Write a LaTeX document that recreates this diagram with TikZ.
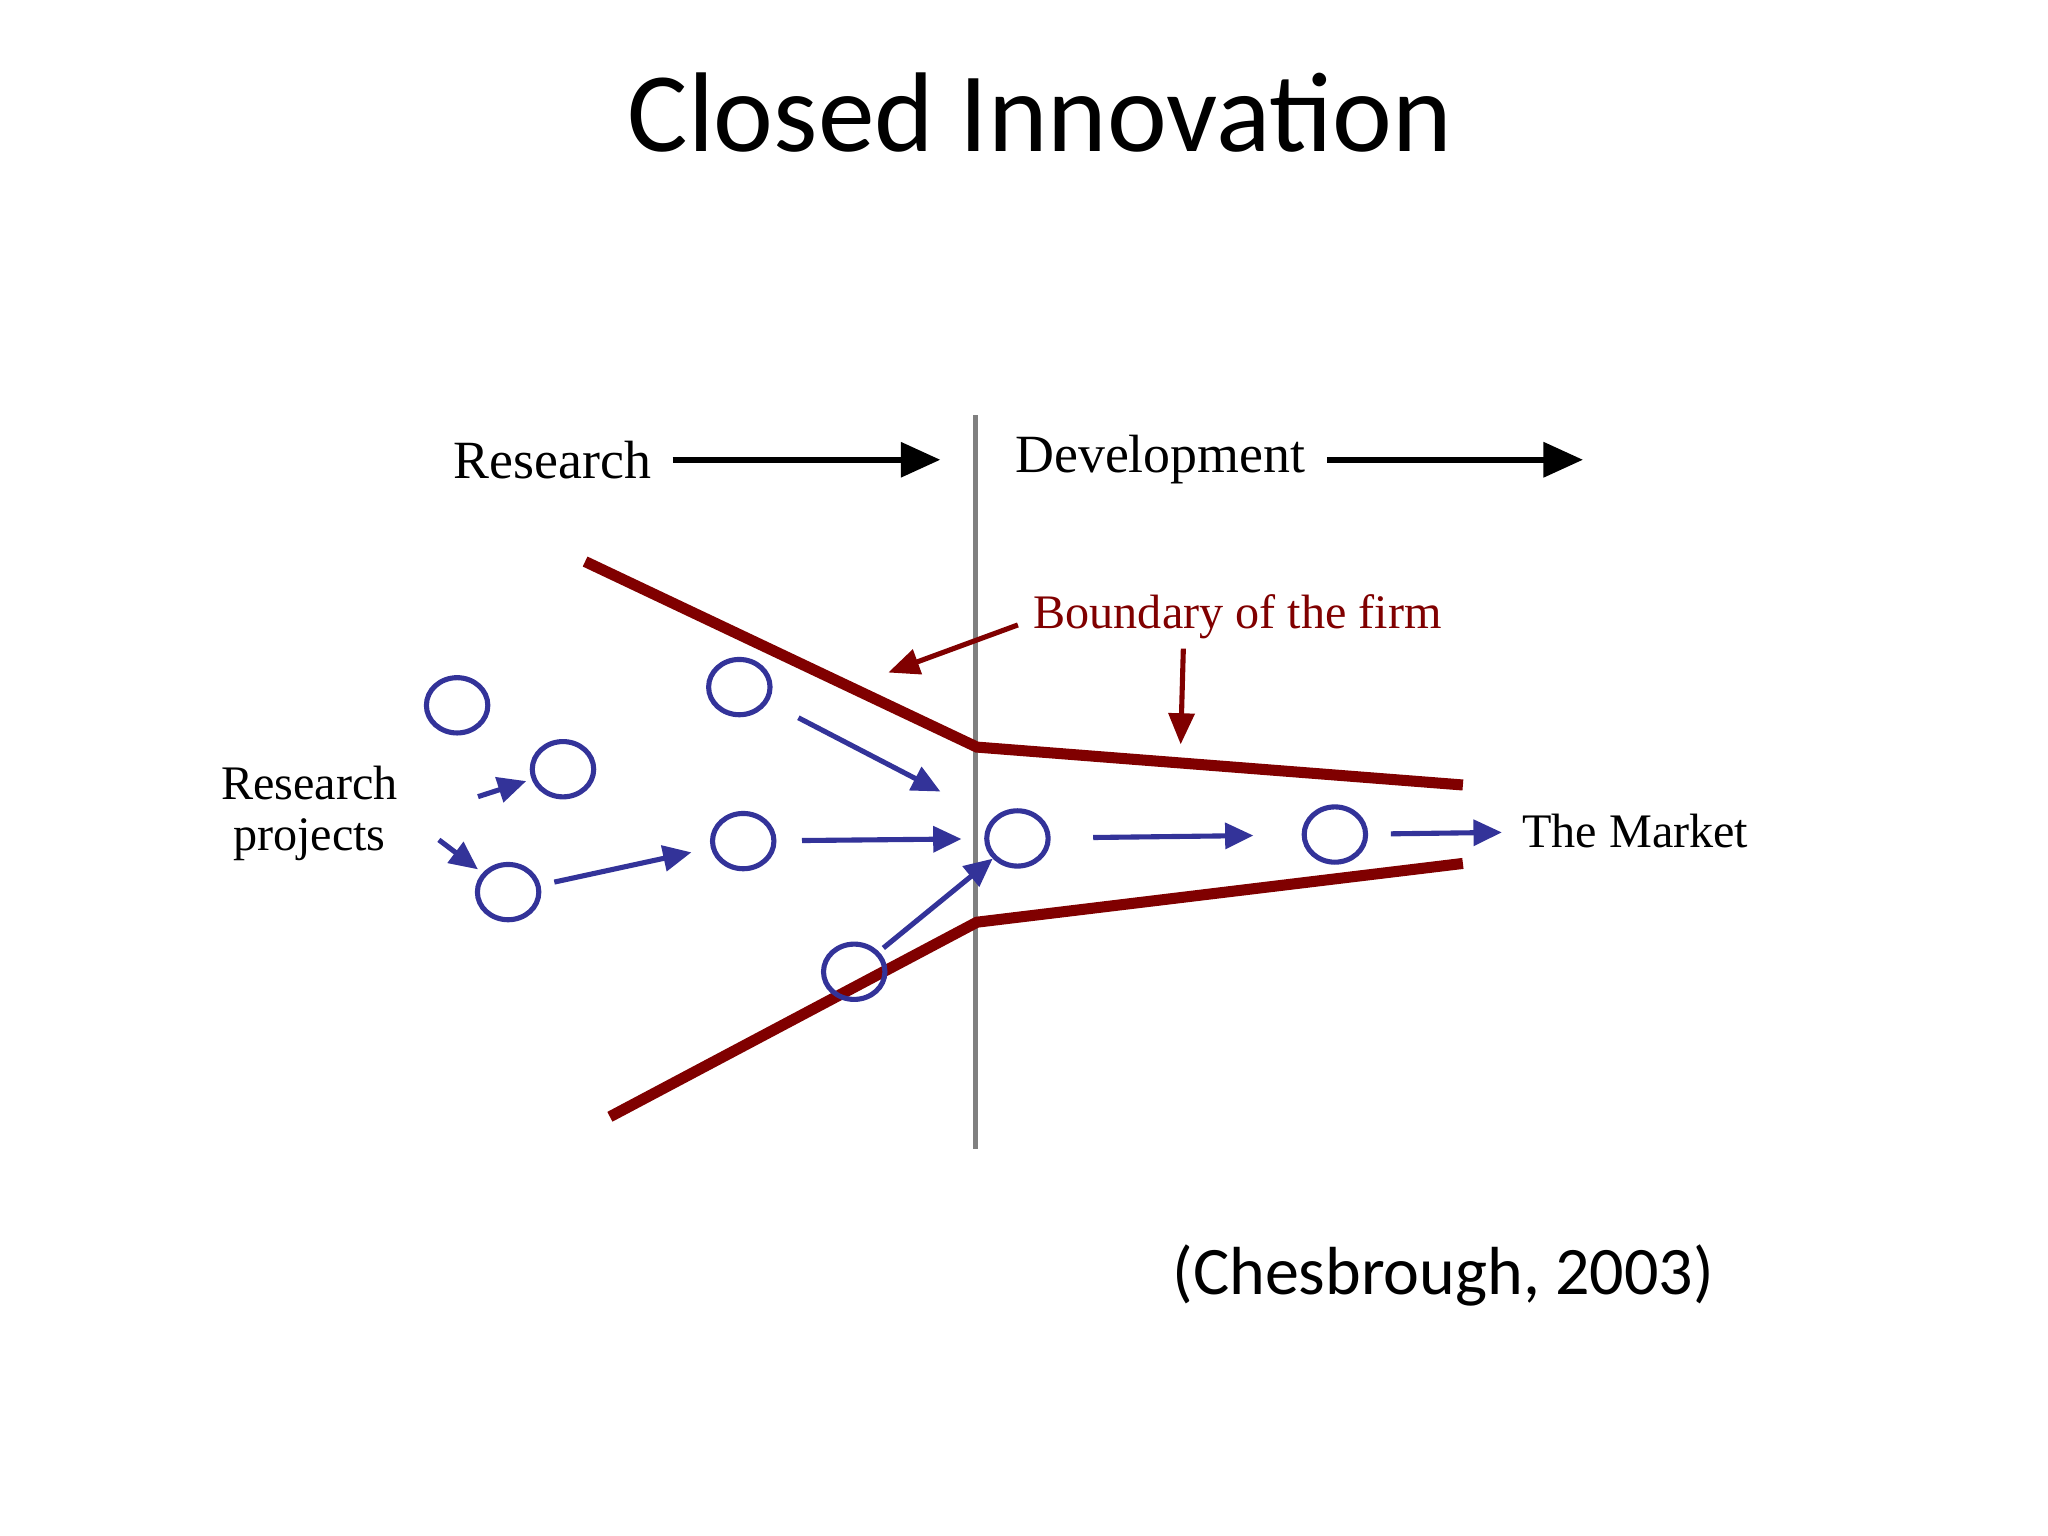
\documentclass[tikz,border=0pt]{standalone}
\usepackage{fontspec}
\setmainfont{Liberation Serif}
\newfontfamily\slidefont{Carlito}
\usetikzlibrary{arrows.meta,shapes.geometric}

\definecolor{projblue}{RGB}{51,51,153}
\definecolor{firmred}{RGB}{128,0,0}
\definecolor{phasegray}{RGB}{128,128,128}

\tikzset{
	proj/.style={ellipse, draw=projblue, line width=1.8pt, minimum width=0.30in, minimum height=0.27in, inner sep=0pt},
	flow/.style={projblue, line width=1.8pt, -{Triangle[length=10pt,width=9pt]}},
	phase/.style={black, line width=2.3pt, -{Triangle[length=14pt,width=12pt]}},
	pointer/.style={firmred, line width=1.8pt, -{Triangle[length=11pt,width=9pt]}},
	wall/.style={firmred, line width=3.9pt}
}

\begin{document}
\begin{tikzpicture}[x=1.0in,y=1.0in]
		\useasboundingbox (0,0) rectangle (10,7.5);
		
		\node (title) at (5.077,6.95) {\slidefont\fontsize{40}{48}\selectfont Closed Innovation};
		\node (cite) at (7.047,1.27) {\slidefont\fontsize{24}{29}\selectfont (Chesbrough, 2003)};
		
		% research / development
		\draw[phasegray, line width=1.8pt] (4.764,5.472) -- (4.764,1.888);
		\node (res) at (2.698,5.255) {\fontsize{19}{23}\selectfont Research};
		\coordinate (resend) at (4.592,5.255);
		\draw[phase, shorten <=4pt] (res) -- (resend);
		\node (dev) at (5.666,5.255) {\fontsize{19}{23}\selectfont Development};
		\coordinate (devend) at (7.730,5.255);
		\draw[phase, shorten <=4pt] (dev) -- (devend);
		
		% boundary of the firm
		\draw[wall] (2.857,4.758) -- (4.770,3.852) -- (7.143,3.667);
		\draw[wall] (2.978,2.047) -- (4.770,2.997) -- (7.143,3.284);
		\node[firmred] (bnd) at (6.043,4.49) {\fontsize{17}{20}\selectfont Boundary of the firm};
		\coordinate (btip1) at (4.337,4.216);
		\coordinate (btip2) at (5.765,3.865);
		\draw[pointer] ([xshift=-2pt,yshift=-3pt]bnd.west) -- (btip1);
		\draw[pointer] (bnd.south -| 5.778,0) -- (btip2);
		
		% projects
		\node[proj] (p1) at (2.232,4.056) {};
		\node[proj] (p2) at (2.749,3.744) {};
		\node[proj] (p3) at (2.481,3.144) {};
		\node[proj] (p4) at (3.610,4.145) {};
		\node[proj] (p5) at (3.629,3.393) {};
		\node[proj] (p6) at (4.171,2.755) {};
		\node[proj] (p7) at (4.968,3.406) {};
		\node[proj] (p8) at (6.518,3.425) {};
		\node[align=center, font=\fontsize{17}{18}\selectfont] (rp) at (1.511,3.527) {Research\\projects};
		\node[anchor=west, inner sep=0pt] (mkt) at (7.43,3.444) {\fontsize{17}{20}\selectfont The Market};
		
		\coordinate (in2) at (2.334,3.610);
		\coordinate (in3) at (2.143,3.399);
		\coordinate (pinch) at (4.592,3.635);
		\draw[flow, shorten >=2pt] (in2) -- (p2);
		\draw[flow, shorten >=2pt] (in3) -- (p3);
		\draw[flow, shorten <=5pt, shorten >=7pt] (p3) -- (p5);
		\draw[flow, shorten <=12pt] (p4) -- (pinch);
		\draw[flow, shorten <=9pt, shorten >=8pt] (p5) -- (p7);
		\draw[flow, shorten <=2pt] (p6) -- (p7);
		\draw[flow, shorten <=15pt, shorten >=17pt] (p7) -- (p8);
		\draw[flow, shorten <=8pt, shorten >=7pt] (p8) -- (mkt);
	\end{tikzpicture}
\end{document}
